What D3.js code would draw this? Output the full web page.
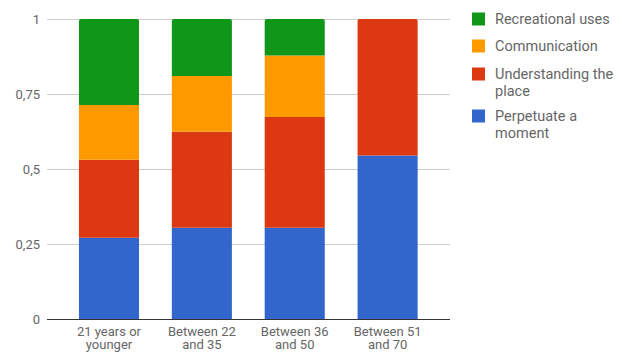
<!DOCTYPE html>
<html>
<head>
<meta charset="utf-8">
<script src="https://cdn.jsdelivr.net/npm/d3@7"></script>
<style>
  html, body { margin: 0; padding: 0; background: #fff; }
  svg { display: block; font-family: Roboto, "Noto Sans", sans-serif; }
</style>
</head>
<body>
<svg id="chart" width="622" height="352"></svg>
<script>
// Age groups (x axis), two-line labels
const categories = ["21 years or younger", "Between 22 and 35", "Between 36 and 50", "Between 51 and 70"];
const categoryLines = [["21 years or", "younger"], ["Between 22", "and 35"], ["Between 36", "and 50"], ["Between 51", "and 70"]];

// Share of each purpose per age group (stacked bottom to top)
const perpetuate    = [0.271, 0.304, 0.304, 0.545];
const understanding = [0.260, 0.320, 0.369, 0.455];
const communication = [0.182, 0.186, 0.205, 0];
const recreational  = [0.287, 0.190, 0.122, 0];

const seriesNames  = ["Perpetuate a moment", "Understanding the place", "Communication", "Recreational uses"];
const seriesColors = ["#3366cc", "#dc3912", "#ff9900", "#109618"];
const legendLines  = [["Perpetuate a", "moment"], ["Understanding the", "place"], ["Communication"], ["Recreational uses"]];

const yTicks = [0, 0.25, 0.5, 0.75, 1];
const yTickLabels = ["0", "0,25", "0,5", "0,75", "1"];

const svg = d3.select("#chart");

const rows = categories.map((c, i) => ({
  category: c,
  "Perpetuate a moment": perpetuate[i],
  "Understanding the place": understanding[i],
  "Communication": communication[i],
  "Recreational uses": recreational[i]
}));
const stacked = d3.stack().keys(seriesNames)(rows);

const y = d3.scaleLinear().domain([0, 1]).range([319, 19]);
const x = d3.scaleBand().domain(categories).range([62.6, 434]).paddingInner(0.353).paddingOuter(0.176);
const gridLeft = 47, gridRight = 450;

// gridlines
svg.append("g").selectAll("line").data(yTicks.filter(t => t > 0)).join("line")
  .attr("x1", gridLeft).attr("x2", gridRight)
  .attr("y1", d => y(d) + 0.5).attr("y2", d => y(d) + 0.5)
  .attr("stroke", "#cccccc").attr("stroke-width", 1);

// y tick labels
svg.append("g").selectAll("text").data(yTicks).join("text")
  .attr("x", 40).attr("y", d => y(d)).attr("dy", "0.35em")
  .attr("text-anchor", "end").attr("font-size", 13).attr("fill", "#666")
  .text((d, i) => yTickLabels[i]);

// stacked bars
const topIndex = categories.map((c, i) => {
  let top = -1;
  seriesNames.forEach((s, k) => { if (rows[i][s] > 0) top = k; });
  return top;
});
const r = 2;
svg.append("g").selectAll("g").data(stacked).join("g")
  .attr("fill", (d, k) => seriesColors[k])
  .selectAll("path").data((d, k) => d.map((seg, i) => ({ seg, i, k }))).join("path")
  .filter(d => d.seg[1] - d.seg[0] > 0)
  .attr("d", d => {
    const x0 = x(categories[d.i]), w = x.bandwidth();
    const yt = y(d.seg[1]), yb = y(d.seg[0]);
    if (d.k === topIndex[d.i]) {
      return `M${x0},${yb}V${yt + r}Q${x0},${yt} ${x0 + r},${yt}H${x0 + w - r}Q${x0 + w},${yt} ${x0 + w},${yt + r}V${yb}Z`;
    }
    return `M${x0},${yb}V${yt}H${x0 + w}V${yb}Z`;
  });

// baseline
svg.append("line").attr("x1", gridLeft).attr("x2", gridRight)
  .attr("y1", y(0) + 0.5).attr("y2", y(0) + 0.5)
  .attr("stroke", "#333").attr("stroke-width", 1);

// x labels
const xl = svg.append("g").selectAll("text").data(categories).join("text")
  .attr("x", d => x(d) + x.bandwidth() / 2).attr("y", 335.5)
  .attr("text-anchor", "middle").attr("font-size", 13).attr("fill", "#666");
xl.each(function (d, i) {
  const t = d3.select(this);
  categoryLines[i].forEach((line, j) => {
    t.append("tspan").attr("x", x(d) + x.bandwidth() / 2).attr("dy", j === 0 ? 0 : 13.5).text(line);
  });
});

// legend (top entry is the top of the stack)
const legendOrder = [3, 2, 1, 0];
const legendCenters = [19, 46, 74, 116];
const legend = svg.append("g");
legendOrder.forEach((k, n) => {
  const cy = legendCenters[n];
  legend.append("rect").attr("x", 472).attr("y", cy - 6.5).attr("width", 13).attr("height", 13)
    .attr("fill", seriesColors[k]);
  const t = legend.append("text").attr("x", 495).attr("y", cy)
    .attr("font-size", 14.5).attr("fill", "#666");
  legendLines[k].forEach((line, j) => {
    t.append("tspan").attr("x", 495).attr("dy", j === 0 ? "0.35em" : 16.5).text(line);
  });
});
</script>
</body>
</html>
